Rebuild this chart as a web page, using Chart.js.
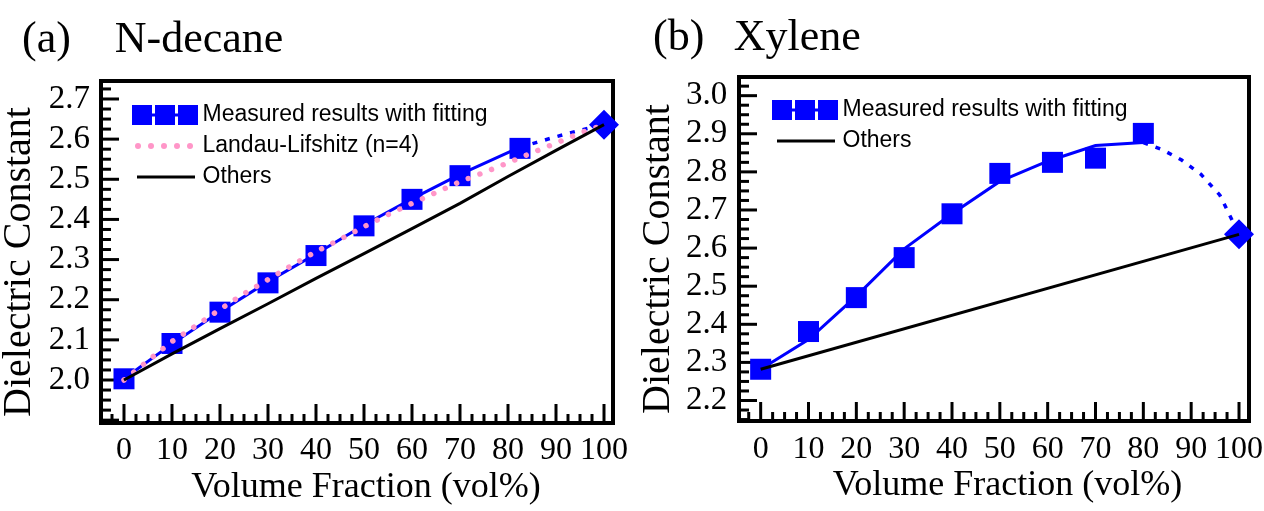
<!DOCTYPE html>
<html><head><meta charset="utf-8">
<script src="https://cdn.jsdelivr.net/npm/chart.js@4.4.1/dist/chart.umd.min.js"></script>
<style>
html,body{margin:0;padding:0;background:#fff;width:1264px;height:511px;overflow:hidden}
#wrap{position:relative;width:1264px;height:511px}
canvas{position:absolute;top:0}
#c1{left:0}
#c2{left:632px}
</style></head><body>
<div id="wrap"><canvas id="c1" width="632" height="511"></canvas><canvas id="c2" width="632" height="511"></canvas></div>
<script>
// ---------- tick labels ----------
const xTicks = [0,10,20,30,40,50,60,70,80,90,100];
const yTicksDecane = [2.0,2.1,2.2,2.3,2.4,2.5,2.6,2.7];
const yTicksXylene = [2.2,2.3,2.4,2.5,2.6,2.7,2.8,2.9,3.0];

// ---------- (a) N-decane ----------
const decaneMeasX = [0,10,20,30,40,50,60,70,82.5];
const decaneMeasY = [2.003,2.091,2.169,2.242,2.310,2.384,2.450,2.509,2.577];
const decaneFitX = [0,10,20,30,40,50,60,70,82.5];
const decaneFitY = [2.003,2.090,2.170,2.245,2.314,2.386,2.451,2.512,2.580];
const decaneFitExtX = [82.5,86,90,95,100];
const decaneFitExtY = [2.580,2.592,2.606,2.622,2.636];
const decanePureX = [100];
const decanePureY = [2.636];
const decaneLLX = [0,5,10,15,20,25,30,35,40,45,50,55,60,65,70,75,80,85,90,95,100];
const decaneLLY = [2.000,2.048,2.096,2.135,2.176,2.215,2.250,2.286,2.320,2.350,2.382,2.412,2.440,2.467,2.494,2.517,2.541,2.566,2.590,2.615,2.636];
const decaneOthersX = [0,10,20,30,40,50,60,70,80,90,100];
const decaneOthersY = [2.000,2.065,2.128,2.190,2.253,2.315,2.377,2.440,2.507,2.572,2.636];

// ---------- (b) Xylene ----------
const xyleneMeasX = [0,10,20,30,40,50,61,70,80];
const xyleneMeasY = [2.282,2.381,2.470,2.575,2.690,2.796,2.825,2.836,2.901];
const xyleneFitX = [0,10,20,30,40,50,60,70,80];
const xyleneFitY = [2.282,2.360,2.474,2.598,2.690,2.775,2.828,2.869,2.877];
const xyleneFitExtX = [80,84,88,92,96,100];
const xyleneFitExtY = [2.877,2.858,2.831,2.794,2.739,2.636];
const xylenePureX = [100];
const xylenePureY = [2.636];
const xyleneOthersX = [0,100];
const xyleneOthersY = [2.282,2.636];

const SERIF = '"Liberation Serif","Times New Roman",serif';
const SANS = '"Liberation Sans",Arial,sans-serif';
const BLUE = '#0000ff';
const PINK = '#ff96c8';
Chart.defaults.font.family = SERIF;

function pts(xs, ys){ return xs.map((x,i)=>({x:x, y:ys[i]})); }
function symbolCanvas(w, h, draw){ const c=document.createElement('canvas'); c.width=w; c.height=h; draw(c.getContext('2d')); return c; }
function measuredSym(w, sx){ return symbolCanvas(w,24,(g)=>{ g.fillStyle=BLUE; g.fillRect(sx,10.5,66,3); for(let i=0;i<3;i++) g.fillRect(sx+23*i,2,20,20); }); }
function llSym(w, sx){ return symbolCanvas(w,24,(g)=>{ g.fillStyle=PINK; for(let i=0;i<5;i++){ g.beginPath(); g.arc(sx+6+13*i,12,3,0,Math.PI*2); g.fill(); } }); }
function othersSym(w, sx){ return symbolCanvas(w,24,(g)=>{ g.fillStyle='#000'; g.fillRect(sx+5,10.5,58,3); }); }

const frameTicks = {
  id:'frameTicks',
  afterLayout(chart){
    const lg = chart.legend;
    if (lg) {
      const h = lg.bottom - lg.top;
      lg.top = chart.chartArea.top;
      lg.bottom = lg.top + h;
    }
  },
  beforeDatasetsDraw(chart){
    const ctx = chart.ctx, a = chart.chartArea, x = chart.scales.x, y = chart.scales.y;
    ctx.save();
    ctx.strokeStyle = '#000';
    ctx.lineWidth = 3;
    for (let k = Math.ceil(y.min/0.025 - 1e-6); k*0.025 <= y.max + 1e-9; k++) {
      const py = y.getPixelForValue(k*0.025);
      const len = (k % 4 === 0) ? 18 : 10;
      ctx.beginPath(); ctx.moveTo(a.left, py); ctx.lineTo(a.left + len, py); ctx.stroke();
    }
    for (let k = Math.ceil(x.min/2.5 - 1e-6); k*2.5 <= x.max + 1e-9; k++) {
      const px = x.getPixelForValue(k*2.5);
      const len = (k % 4 === 0) ? 19 : 9;
      ctx.beginPath(); ctx.moveTo(px, a.bottom); ctx.lineTo(px, a.bottom - len); ctx.stroke();
    }
    ctx.lineWidth = 4;
    ctx.strokeRect(a.left, a.top, a.right - a.left, a.bottom - a.top);
    ctx.restore();
  }
};

function makeChart(canvas, P){
  return new Chart(canvas, {
    type:'line',
    data:{datasets:P.datasets},
    options:{
      responsive:false, animation:false, devicePixelRatio:1, events:[],
      layout:{padding:{left:P.padL, right:P.padR, top:0, bottom:0}},
      elements:{line:{tension:0}},
      plugins:{
        title:{display:true, text:P.title, align:'start', color:'#000',
          font:{family:SERIF, size:44, weight:'normal', lineHeight:1},
          padding:{top:P.titleTop, bottom:P.titleBottom}},
        legend:{display:true, position:'chartArea', align:'start',
          title:{display:true, text:' ', font:{size:10, lineHeight:1}, padding:{top:0, bottom:P.legTitlePad}},
          labels:{usePointStyle:true, pointStyleWidth:P.legW, padding:8, color:'#000',
            font:{family:SANS, size:23, lineHeight:1},
            generateLabels:()=>P.legendItems}},
        tooltip:{enabled:false}
      },
      scales:{
        x:{type:'linear', min:P.xMin, max:P.xMax,
          grid:{display:false, drawTicks:false}, border:{display:false},
          afterBuildTicks:(s)=>{ s.ticks = xTicks.map(v=>({value:v})); },
          afterFit:(s)=>{ s.height = P.xH; s.paddingLeft = 0; s.paddingRight = 0; },
          ticks:{color:'#000', font:{family:SERIF, size:32, lineHeight:1}, padding:P.xTickPad, maxRotation:0, autoSkip:false,
            callback:(v)=>String(v)},
          title:{display:true, text:P.xTitle, color:'#000', font:{family:SERIF, size:36, weight:'normal', lineHeight:1},
            padding:{top:0, bottom:P.xTitleBottom}}},
        y:{type:'linear', min:P.yMin, max:P.yMax,
          grid:{display:false, drawTicks:false}, border:{display:false},
          afterBuildTicks:(s)=>{ s.ticks = P.yTicks.map(v=>({value:v})); },
          afterFit:(s)=>{ s.width = P.yW; s.paddingTop = 0; s.paddingBottom = 0; },
          ticks:{color:'#000', font:{family:SERIF, size:33, lineHeight:1}, padding:P.yTickPad, autoSkip:false,
            callback:(v)=>Number(v).toFixed(1)},
          title:{display:true, text:'Dielectric Constant  ', color:'#000', font:{family:SERIF, size:40, weight:'normal', lineHeight:1},
            padding:{top:P.yTitlePad, bottom:0}}}
      }
    },
    plugins:[frameTicks]
  });
}

function lineDs(label, xs, ys, color, width, dash){
  return {label:label, data:pts(xs,ys), borderColor:color, backgroundColor:color, borderWidth:width,
    borderDash:dash||[], borderCapStyle:'butt', pointRadius:0, fill:false, clip:false};
}
function pointDs(label, xs, ys, style, r){
  return {label:label, data:pts(xs,ys), showLine:false, pointStyle:style, pointRadius:r,
    backgroundColor:BLUE, borderColor:BLUE, borderWidth:0, clip:false};
}

// ---- panel (a)
const llDs = lineDs('Landau-Lifshitz (n=4)', decaneLLX, decaneLLY, PINK, 5.5, [0.01, 12.5]);
llDs.borderCapStyle = 'round';
makeChart(document.getElementById('c1'), {
  title:'(a)    N-decane', titleTop:18.2, titleBottom:18.8,
  padL:22, padR:19, yW:79, xH:88,
  xMin:-4.79, xMax:101.875, yMin:1.8929, yMax:2.7448, yTicks:yTicksDecane,
  xTickPad:12, xTitleBottom:5.5, yTickPad:11, yTitlePad:-22.5,
  xTitle:'  Volume Fraction (vol%)',
  legW:82, legTitlePad:4.5,
  datasets:[
    lineDs('Others', decaneOthersX, decaneOthersY, '#000', 3),
    llDs,
    lineDs('Fitting', decaneFitX, decaneFitY, BLUE, 3),
    lineDs('Fitting (extrapolated)', decaneFitExtX, decaneFitExtY, BLUE, 3.5, [5,8]),
    pointDs('Pure liquid', decanePureX, decanePureY, 'rectRot', 15),
    pointDs('Measured results with fitting', decaneMeasX, decaneMeasY, 'rect', 14.85)
  ],
  legendItems:[
    {text:'Measured results with fitting', pointStyle:measuredSym(98,31), fillStyle:BLUE, strokeStyle:BLUE, lineWidth:0, hidden:false, datasetIndex:5, fontColor:'#000'},
    {text:'Landau-Lifshitz (n=4)', pointStyle:llSym(98,31), fillStyle:PINK, strokeStyle:PINK, lineWidth:0, hidden:false, datasetIndex:1, fontColor:'#000'},
    {text:'Others', pointStyle:othersSym(98,31), fillStyle:'#000', strokeStyle:'#000', lineWidth:0, hidden:false, datasetIndex:0, fontColor:'#000'}
  ]
});

// ---- panel (b)
makeChart(document.getElementById('c2'), {
  title:'(b)\u2002\u2006Xylene', titleTop:16.45, titleBottom:16.55,
  padL:21, padR:14, yW:86, xH:90,
  xMin:-4.53, xMax:102.09, yMin:2.1462, yMax:3.049, yTicks:yTicksXylene,
  xTickPad:13, xTitleBottom:7.2, yTickPad:11.7, yTitlePad:-14.8,
  xTitle:'   Volume Fraction (vol%)',
  legW:84, legTitlePad:3.5,
  datasets:[
    lineDs('Others', xyleneOthersX, xyleneOthersY, '#000', 3),
    lineDs('Fitting', xyleneFitX, xyleneFitY, BLUE, 3),
    lineDs('Fitting (extrapolated)', xyleneFitExtX, xyleneFitExtY, BLUE, 3.5, [5,8]),
    pointDs('Pure liquid', xylenePureX, xylenePureY, 'rectRot', 15),
    pointDs('Measured results with fitting', xyleneMeasX, xyleneMeasY, 'rect', 14.85)
  ],
  legendItems:[
    {text:'Measured results with fitting', pointStyle:measuredSym(100,33), fillStyle:BLUE, strokeStyle:BLUE, lineWidth:0, hidden:false, datasetIndex:4, fontColor:'#000'},
    {text:'Others', pointStyle:othersSym(100,33), fillStyle:'#000', strokeStyle:'#000', lineWidth:0, hidden:false, datasetIndex:0, fontColor:'#000'}
  ]
});
</script>
</body></html>
